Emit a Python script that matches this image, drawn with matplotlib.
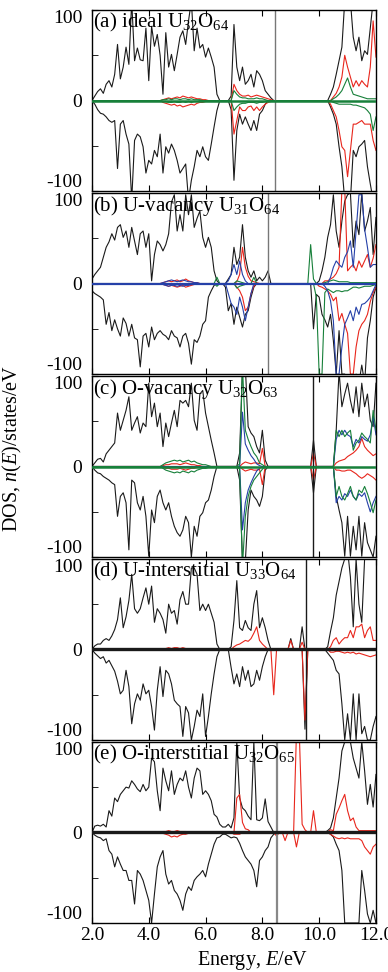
import numpy as np
import matplotlib
matplotlib.use('Agg')
import matplotlib.pyplot as plt

plt.rcParams['font.family'] = ['Liberation Serif', 'DejaVu Serif']
plt.rcParams['mathtext.fontset'] = 'custom'
plt.rcParams['mathtext.rm'] = 'Liberation Serif'
plt.rcParams['mathtext.it'] = 'Liberation Serif:italic'

# energy grid, 2.0 ... 12.0 eV, step 0.1
energy = np.round(np.linspace(2.0, 12.0, 101), 1)

# ---------------- (a) ideal U32O64 ----------------
tot_up_a = ([0, 5, 10, 13, 8, 18, 22, 15, 29, 62]
            + [24, 37, 59, 40, 110, 44, 58, 45, 44, 80]
            + [22, 82, 60, 73, 50, 7, 75, 37, 51, 33]
            + [51, 70, 77, 62, 88, 110, 55, 80, 58, 62]
            + [48, 58, 48, 37, 7, 0, 0, 0, 0, 5]
            + [84, 37, 22, 37, 18, 22, 29, 15, 33, 29]
            + [22, 11, 7, 3, 0, 0, 0, 0, 0, 0]
            + [0] * 10
            + [0, 0, 0, 0, 7, 15, 29, 44, 59, 110]
            + [110, 110, 70, 55, 70, 44, 55, 51, 80, 110]
            + [110])
tot_dn_a = ([0, -4, -10, -14, -15, -18, -22, -24, -22, -75]
            + [-26, -22, -37, -48, -110, -44, -37, -40, -51, -80]
            + [-66, -70, -55, -62, -37, -80, -51, -58, -48, -55]
            + [-66, -80, -75, -70, -110, -88, -73, -55, -62, -51]
            + [-62, -66, -48, -29, -11, 0, 0, 0, 0, -10]
            + [-88, -33, -15, -26, -18, -26, -33, -22, -33, -15]
            + [-11, -4, 0, 0, 0, 0, 0, 0, 0, 0]
            + [0] * 10
            + [0, 0, 0, 0, -7, -15, -26, -51, -73, -110]
            + [-110, -110, -55, -62, -51, -48, -44, -73, -92, -110]
            + [-110])
red_up_a = ([0] * 20
            + [0, 0, 0, 0, 0, 1, 2, 3, 2, 3]
            + [4, 3, 5, 4, 3, 4, 3, 2, 2, 1]
            + [1, 0, 0, 0, 0, 0, 0, 0, 0, 0]
            + [18, 11, 7, 5, 5, 6, 4, 5, 6, 5]
            + [4, 3, 2, 1, 0, 0, 0, 0, 0, 0]
            + [0] * 10
            + [0, 0, 0, 0, 0, 4, 8, 15, 26, 50]
            + [37, 26, 15, 22, 16, 22, 18, 15, 37, 88]
            + [48])
red_dn_a = ([0] * 20
            + [0, 0, 0, 0, 0, -2, -3, -4, -5, -4]
            + [-6, -5, -7, -6, -5, -4, -5, -3, -2, -2]
            + [-1, 0, 0, 0, 0, 0, 0, 0, 0, 0]
            + [-37, -22, -7, -11, -11, -7, -6, -11, -7, -11]
            + [-7, -4, -2, -1, 0, 0, 0, 0, 0, 0]
            + [0] * 10
            + [0, 0, 0, 0, -4, -11, -18, -33, -51, -55]
            + [-84, -55, -26, -26, -24, -22, -26, -26, -26, -44]
            + [-55])
grn_up_a = ([0] * 20
            + [0, 0, 0, 0, 0, 1, 1, 2, 1, 2]
            + [2, 1, 2, 2, 1, 2, 1, 1, 1, 0]
            + [0] * 10
            + [11, 7, 4, 3, 3, 2, 2, 2, 3, 2]
            + [2, 1, 0, 0, 0, 0, 0, 0, 0, 0]
            + [0] * 10
            + [0, 0, 0, 0, 0, 2, 4, 7, 11, 18]
            + [25, 15, 7, 6, 5, 4, 3, 2, 2, 2]
            + [2])
grn_dn_a = ([0] * 20
            + [0, 0, 0, 0, 0, -1, -1, -2, -2, -1]
            + [-2, -2, -1, -2, -1, -2, -1, -1, 0, 0]
            + [0] * 10
            + [-11, -7, -4, -3, -3, -2, -2, -2, -3, -2]
            + [-2, -1, 0, 0, 0, 0, 0, 0, 0, 0]
            + [0] * 10
            + [0, 0, 0, 0, 0, -2, -3, -4, -4, -4]
            + [-4, -4, -5, -5, -6, -7, -8, -11, -15, -33]
            + [-18])

# ---------------- (b) U-vacancy U31O64 ----------------
tot_up_b = ([5, 10, 14, 18, 29, 40, 46, 55, 48, 62]
            + [65, 51, 58, 40, 62, 47, 32, 55, 58, 40]
            + [55, 3, 32, 47, 43, 36, 43, 55, 90, 98]
            + [58, 76, 58, 98, 76, 98, 62, 72, 80, 51]
            + [40, 51, 40, 14, 3, 0, 0, 0, 5, 10]
            + [40, 21, 29, 65, 29, 14, 7, 14, 3, 7]
            + [3, 7, 14, 0, 0, 0, 0, 0, 0, 0]
            + [0] * 10
            + [3, 14, 29, 51, 65, 98, 58, 40, 69, 91]
            + [98, 100, 40, 69, 54, 100, 58, 69, 84, 32]
            + [73])
tot_dn_b = ([-8, -11, -13, -15, -18, -45, -32, -52, -40, -50]
            + [-58, -38, -44, -58, -45, -60, -62, -92, -58, -55]
            + [-70, -48, -62, -55, -52, -56, -58, -62, -52, -58]
            + [-60, -70, -58, -55, -66, -89, -62, -65, -58, -45]
            + [-41, -15, -8, -2, 0, 0, 0, -4, -30, -22]
            + [-45, -26, -37, -48, -34, -30, -15, -4, 0, 0]
            + [0] * 10
            + [0, 0, 0, 0, 0, 0, 0, 0, -50, -12]
            + [-15, -34, -40, -48, -34, -63, -100, -52, -100, -100]
            + [-110, -110, -110, -100, -110, -90, -110, -60, -41, -15]
            + [-4])
red_up_b = ([0] * 20
            + [0, 0, 0, 0, 0, 1, 2, 3, 2, 3]
            + [4, 2, 3, 5, 3, 2, 1, 1, 0, 0]
            + [0] * 10
            + [0, 2, 10, 40, 18, 8, 3, 2, 1, 0]
            + [0] * 10
            + [0] * 10
            + [0, 0, 3, 3, 5, 7, 11, 18, 105, 105]
            + [14, 18, 21, 14, 25, 18, 25, 32, 18, 28]
            + [43])
red_dn_b = ([0] * 20
            + [0, 0, 0, 0, 0, -1, -2, -3, -2, -3]
            + [-4, -3, -2, -4, -3, -2, -1, 0, 0, 0]
            + [0] * 10
            + [0, -4, -8, -15, -30, -26, -11, -3, 0, 0]
            + [0] * 10
            + [0] * 10
            + [-3, -4, -6, -8, -12, -19, -15, -41, -33, -45]
            + [-55, -100, -100, -70, -52, -45, -41, -34, -20, -10]
            + [-4])
blu_up_b = ([0] * 20
            + [0, 0, 0, 0, 0, 1, 2, 3, 4, 3]
            + [2, 3, 4, 3, 2, 2, 1, 1, 0, 0]
            + [0, 0, 0, 0, 0, 0, 0, 0, 3, 10]
            + [21, 10, 25, 10, 3, 0, 0, 0, 0, 0]
            + [0] * 10
            + [0] * 10
            + [0, 0, 0, 0, 7, 18, 25, 21, 18, 29]
            + [35, 47, 18, 58, 98, 98, 60, 40, 18, 21]
            + [21])
blu_dn_b = ([0] * 20
            + [0, 0, 0, 0, 0, -1, -2, -3, -2, -2]
            + [-3, -2, -3, -2, -2, -1, -1, 0, 0, 0]
            + [0, 0, 0, 0, 0, 0, 0, 0, -11, -22]
            + [-26, -34, -15, -26, -41, -26, -11, 0, 0, 0]
            + [0] * 10
            + [0] * 10
            + [0, 0, -3, -8, -19, -41, -100, -100, -70, -45]
            + [-38, -30, -41, -26, -34, -23, -22, -19, -15, -8]
            + [-1])
grn_up_b = ([0] * 40
            + [0, 0, 0, 0, 7, 0, 0, 0, 0, 0]
            + [0, 3, 2, 1, 0, 0, 0, 7, 0, 0]
            + [0] * 10
            + [0, 0, 0, 0, 0, 0, 0, 43, 5, 0]
            + [0, 0, 1, 2, 3, 4, 3, 2, 2, 2]
            + [2, 1, 1, 1, 1, 1, 1, 1, 1, 1]
            + [1])
grn_dn_b = ([0] * 40
            + [0, 0, 0, 0, -3, 0, 0, 0, 0, 0]
            + [0, -5, -3, -2, -1, 0, 0, 0, 0, 0]
            + [0] * 10
            + [0, 0, 0, 0, 0, 0, 0, 0, 0, -15]
            + [-100, -100, -10, -6, -8, -10, -8, -8, -9, -8]
            + [-8, -6, -4, -4, -5, -4, -3, -3, -3, -2]
            + [-1])

# ---------------- (c) O-vacancy U32O63 ----------------
tot_up_c = ([0, 4, 8, 9, 5, 14, 18, 22, 26, 59]
            + [40, 51, 62, 77, 40, 48, 55, 37, 48, 44]
            + [92, 55, 70, 44, 59, 22, 48, 33, 48, 62]
            + [44, 73, 70, 73, 66, 92, 51, 40, 80, 84]
            + [59, 44, 29, 15, 0, 0, 0, 0, 0, 0]
            + [0, 0, 15, 110, 110, 44, 37, 33, 22, 15]
            + [40, 7, 0, 0, 0, 0, 0, 0, 0, 0]
            + [0, 0, 0, 0, 0, 0, 0, 0, 29, 0]
            + [0, 0, 0, 0, 0, 0, 40, 105, 66, 80]
            + [92, 73, 59, 88, 55, 92, 66, 80, 51, 44]
            + [92])
tot_dn_c = ([0, -4, -7, -8, -11, -13, -15, -18, -20, -55]
            + [-33, -29, -40, -92, -15, -18, -40, -48, -33, -55]
            + [-99, -48, -62, -33, -26, -40, -48, -40, -55, -66]
            + [-73, -77, -70, -55, -62, -100, -66, -77, -55, -51]
            + [-40, -37, -26, -11, 0, 0, 0, 0, 0, 0]
            + [0, 0, -15, -105, -105, -48, -26, -33, -37, -44]
            + [-33, -4, 0, 0, 0, 0, 0, 0, 0, 0]
            + [0, 0, 0, 0, 0, 0, 0, 0, -29, 0]
            + [0, 0, 0, 0, 0, 0, -33, -48, -62, -99]
            + [-55, -99, -66, -92, -55, -99, -62, -84, -92, -100]
            + [-77])
red_up_c = ([0] * 20
            + [0, 0, 0, 0, 0, 1, 2, 2, 3, 3]
            + [3, 2, 3, 4, 3, 2, 2, 1, 1, 0]
            + [0] * 10
            + [0, 0, 0, 3, 5, 4, 3, 4, 4, 3]
            + [20, 0, 0, 0, 0, 0, 0, 0, 0, 0]
            + [0, 0, 0, 0, 0, 0, 0, 0, 15, 0]
            + [0, 0, 0, 0, 0, 0, 4, 6, 7, 8]
            + [11, 13, 15, 18, 22, 31, 22, 18, 15, 12]
            + [14])
red_dn_c = ([0] * 20
            + [0, 0, 0, 0, 0, -1, -2, -2, -3, -3]
            + [-3, -2, -3, -4, -3, -2, -2, -1, -1, 0]
            + [0] * 10
            + [0, 0, 0, -3, -5, -4, -3, -4, -4, -3]
            + [-20, 0, 0, 0, 0, 0, 0, 0, 0, 0]
            + [0, 0, 0, 0, 0, 0, 0, 0, -15, 0]
            + [0, 0, 0, 0, 0, 0, -4, -4, -5, -5]
            + [-4, -4, -6, -8, -11, -13, -11, -8, -10, -12]
            + [-15])
blu_up_c = ([0] * 50
            + [0, 0, 0, 60, 25, 18, 12, 8, 3, 1]
            + [0] * 10
            + [0] * 10
            + [0, 0, 0, 0, 0, 0, 30, 40, 35, 40]
            + [35, 33, 22, 30, 26, 33, 30, 28, 35, 55]
            + [35])
blu_dn_c = ([0] * 50
            + [0, 0, 0, -70, -40, -26, -18, -11, -5, -2]
            + [0] * 10
            + [0] * 10
            + [0, 0, 0, 0, 0, 0, -40, -33, -37, -30]
            + [-33, -26, -33, -37, -30, -33, -29, -40, -50, -40]
            + [-33])
grn_up_c = ([0] * 20
            + [0, 0, 0, 0, 0, 2, 4, 5, 6, 7]
            + [6, 7, 5, 6, 7, 5, 6, 4, 3, 2]
            + [2, 1, 0, 0, 0, 0, 0, 0, 0, 0]
            + [0, 0, 3, 110, 40, 30, 22, 15, 11, 4]
            + [2, 0, 0, 0, 0, 0, 0, 0, 0, 0]
            + [0] * 10
            + [0, 0, 0, 0, 0, 0, 40, 33, 40, 33]
            + [37, 40, 18, 26, 29, 37, 33, 30, 26, 62]
            + [40])
grn_dn_c = ([0] * 20
            + [0, 0, 0, 0, 0, -2, -4, -5, -6, -7]
            + [-6, -7, -5, -6, -7, -5, -6, -4, -3, -2]
            + [-2, -1, 0, 0, 0, 0, 0, 0, 0, 0]
            + [0, 0, -3, -110, -55, -33, -22, -15, -11, -7]
            + [-3, 0, 0, 0, 0, 0, 0, 0, 0, 0]
            + [0] * 10
            + [0, 0, 0, 0, 0, 0, -33, -22, -33, -37]
            + [-30, -22, -33, -37, -26, -29, -22, -30, -40, -51]
            + [-37])

# ---------------- (d) U-interstitial U33O64 ----------------
tot_up_d = ([0, 4, 6, 6, 10, 12, 10, 15, 22, 33]
            + [57, 24, 36, 54, 83, 45, 40, 45, 57, 68]
            + [50, 70, 30, 45, 40, 33, 18, 50, 40, 43]
            + [28, 55, 64, 50, 50, 90, 90, 83, 43, 50]
            + [43, 50, 40, 30, 6, 0, 0, 0, 0, 3]
            + [32, 76, 24, 21, 32, 24, 21, 50, 65, 24]
            + [35, 24, 10, 0, 0, 0, 0, 0, 0, 0]
            + [12, 0, 0, 0, 25, 0, 0, 0, 0, 0]
            + [0, 0, 0, 3, 20, 35, 60, 75, 90, 100]
            + [110, 80, 25, 100, 50, 30, 100, 110, 110, 110]
            + [105])
tot_dn_d = ([0, -4, -7, -10, -8, -15, -12, -18, -24, -35]
            + [-49, -45, -23, -41, -82, -60, -49, -56, -38, -49]
            + [-45, -63, -89, -45, -19, -52, -23, -27, -38, -56]
            + [-60, -63, -96, -63, -70, -100, -85, -67, -74, -49]
            + [-96, -74, -49, -27, -8, 0, 0, 0, 0, -20]
            + [-38, -27, -41, -19, -34, -23, -41, -38, -23, -34]
            + [-19, -8, 0, 0, 0, 0, 0, 0, 0, 0]
            + [0, 0, 0, 0, 0, -88, 0, 0, 0, 0]
            + [0, 0, 0, -4, -8, -12, -23, -27, -60, -100]
            + [-71, -100, -49, -100, -49, -93, -85, -100, -100, -85]
            + [-74])
red_up_d = ([0] * 20
            + [0, 0, 0, 0, 0, 1, 1, 2, 1, 2]
            + [2, 1, 2, 1, 1, 1, 0, 0, 0, 0]
            + [0] * 10
            + [3, 5, 6, 8, 10, 9, 12, 18, 25, 10]
            + [6, 3, 0, 0, 0, 0, 0, 0, 0, 0]
            + [10, 0, 0, 0, 8, 0, 0, 0, 0, 0]
            + [0, 0, 0, 0, 3, 10, 13, 6, 10, 13]
            + [13, 21, 13, 25, 25, 28, 13, 21, 25, 10]
            + [10])
red_dn_d = ([0] * 20
            + [0, 0, 0, 0, 0, -1, -1, -1, -1, -1]
            + [0] * 10
            + [0] * 10
            + [0] * 10
            + [0, 0, 0, 0, -50, 0, 0, 0, 0, 0]
            + [0, 0, 0, 0, 0, -78, 0, 0, 0, 0]
            + [0, 0, 0, 0, -3, -3, -2, -2, -3, -4]
            + [-3, -4, -3, -5, -4, -5, -6, -7, -8, -7]
            + [-6])

# ---------------- (e) O-interstitial U32O65 ----------------
tot_up_e = ([0, 7, 8, 7, 9, 6, 24, 18, 38, 34]
            + [42, 46, 50, 49, 57, 53, 48, 45, 53, 46]
            + [50, 82, 78, 46, 24, 71, 57, 46, 68, 42]
            + [53, 60, 57, 68, 50, 38, 60, 71, 68, 42]
            + [46, 42, 35, 20, 17, 9, 6, 6, 9, 5]
            + [16, 100, 38, 27, 24, 18, 14, 100, 14, 13]
            + [16, 37, 12, 6, 0, 0, 0, 0, 0, 0]
            + [0] * 10
            + [0, 0, 0, 2, 5, 16, 38, 60, 90, 100]
            + [100, 100, 82, 71, 60, 100, 68, 31, 53, 28]
            + [64])
tot_dn_e = ([0, -3, -5, -6, -9, -7, -20, -24, -38, -27]
            + [-35, -42, -42, -53, -53, -79, -42, -46, -53, -64]
            + [-75, -100, -68, -38, -27, -20, -46, -57, -53, -64]
            + [-68, -75, -86, -68, -60, -64, -53, -49, -46, -42]
            + [-49, -35, -24, -13, -6, -5, -2, -2, -4, -6]
            + [-5, -6, -12, -20, -27, -31, -35, -42, -60, -31]
            + [-27, -20, -16, -6, -2, 0, 0, 0, 0, 0]
            + [0] * 10
            + [0, 0, 0, 0, -2, -5, -13, -20, -42, -100]
            + [-100, -100, -100, -100, -100, -42, -64, -90, -100, -86]
            + [-100])
red_up_e = ([0] * 20
            + [0, 0, 0, 0, 0, 1, 1, 2, 1, 1]
            + [2, 1, 1, 1, 0, 0, 0, 0, 0, 0]
            + [0] * 10
            + [0, 38, 42, 11, 4, 3, 0, 0, 0, 0]
            + [0] * 10
            + [0, 0, 110, 110, 9, 3, 0, 0, 24, 0]
            + [0, 0, 0, 0, 3, 2, 20, 27, 35, 42]
            + [24, 13, 16, 6, 2, 2, 2, 2, 2, 2]
            + [2])
red_dn_e = ([0] * 20
            + [0, 0, 0, 0, 0, -1, -2, -3, -5, -4]
            + [-5, -3, -2, -2, -1, 0, 0, 0, 0, 0]
            + [0] * 10
            + [-2, -2, -2, 0, 0, 0, 0, 0, 0, 0]
            + [0, 0, 0, 0, 0, -4, 0, 0, -9, 0]
            + [0, 0, -16, 0, 0, 0, 0, 0, 0, 0]
            + [0, 0, 0, 0, -2, -4, -6, -7, -6, -7]
            + [-6, -7, -7, -7, -7, -9, -16, -20, -24, -16]
            + [-13])

labels = [r'(a) ideal U$_{32}$O$_{64}$',
          r'(b) U-vacancy U$_{31}$O$_{64}$',
          r'(c) O-vacancy U$_{32}$O$_{63}$',
          r'(d) U-interstitial U$_{33}$O$_{64}$',
          r'(e) O-interstitial U$_{32}$O$_{65}$']
fermi = [8.45, 8.2, 9.8, 9.52, 8.5]

BLACK = '#1a1a1a'
RED = '#e8261c'
GREEN = '#17803a'
BLUE = '#2540a8'

panels = [
    dict(tot=(tot_up_a, tot_dn_a),
         parts=[(red_up_a, red_dn_a, RED), (grn_up_a, grn_dn_a, GREEN)],
         ef_c='#777777', zero_c=GREEN, zero_lw=1.8),
    dict(tot=(tot_up_b, tot_dn_b),
         parts=[(red_up_b, red_dn_b, RED), (grn_up_b, grn_dn_b, GREEN), (blu_up_b, blu_dn_b, BLUE)],
         ef_c='#777777', zero_c=BLUE, zero_lw=1.6),
    dict(tot=(tot_up_c, tot_dn_c),
         parts=[(red_up_c, red_dn_c, RED), (blu_up_c, blu_dn_c, BLUE), (grn_up_c, grn_dn_c, GREEN)],
         ef_c=BLACK, zero_c=GREEN, zero_lw=1.8),
    dict(tot=(tot_up_d, tot_dn_d),
         parts=[(red_up_d, red_dn_d, RED)],
         ef_c=BLACK, zero_c=BLACK, zero_lw=2.4),
    dict(tot=(tot_up_e, tot_dn_e),
         parts=[(red_up_e, red_dn_e, RED)],
         ef_c='#888888', zero_c=BLACK, zero_lw=2.4),
]

fig, axes = plt.subplots(5, 1, figsize=(3.88, 9.72), dpi=100, sharex=True)
fig.subplots_adjust(left=0.237, right=0.969, top=0.9897, bottom=0.0504, hspace=0.01)

for i, (ax, p) in enumerate(zip(axes, panels)):
    up, dn = p['tot']
    ax.plot(energy, up, color=BLACK, lw=0.8)
    ax.plot(energy, dn, color=BLACK, lw=0.8)
    for pu, pd, c in p['parts']:
        ax.plot(energy, pu, color=c, lw=0.8)
        ax.plot(energy, pd, color=c, lw=0.8)
    ax.axvline(fermi[i], color=p['ef_c'], lw=1.0 if i < 4 else 1.6)
    ax.axhline(0, color=p['zero_c'], lw=p['zero_lw'], zorder=5)

    ax.set_xlim(2.0, 12.0)
    ax.set_ylim(-100, 100)
    ax.set_yticks([-100, 0, 100])
    ax.set_yticklabels(['-100', '0', '100'])
    ax.set_yticks([-50, 50], minor=True)
    ax.set_xticks([2, 4, 6, 8, 10, 12])
    ax.tick_params(axis='both', which='both', direction='in', labelsize=14, pad=7,
                   top=True, right=False, length=4)
    ax.tick_params(axis='x', pad=3)
    for sp in ax.spines.values():
        sp.set_linewidth(1.0)
    ticks = ax.yaxis.get_major_ticks()
    ticks[0].label1.set_va('bottom')
    ticks[-1].label1.set_va('top')
    ax.text(0.005, 0.995, labels[i], transform=ax.transAxes, fontsize=15,
            ha='left', va='top', zorder=6)

axes[-1].set_xticklabels(['2.0', '4.0', '6.0', '8.0', '10.0', '12.0'])
fig.text(253 / 388, 1 - 960 / 972, r'Energy, $E$/eV', fontsize=14.5, ha='center', va='center')
fig.text(12 / 388, 1 - 448 / 972, r'DOS, $n(E)$/states/eV', fontsize=14.5, rotation=90,
         ha='center', va='center')

fig.savefig('out.png', dpi=100)
